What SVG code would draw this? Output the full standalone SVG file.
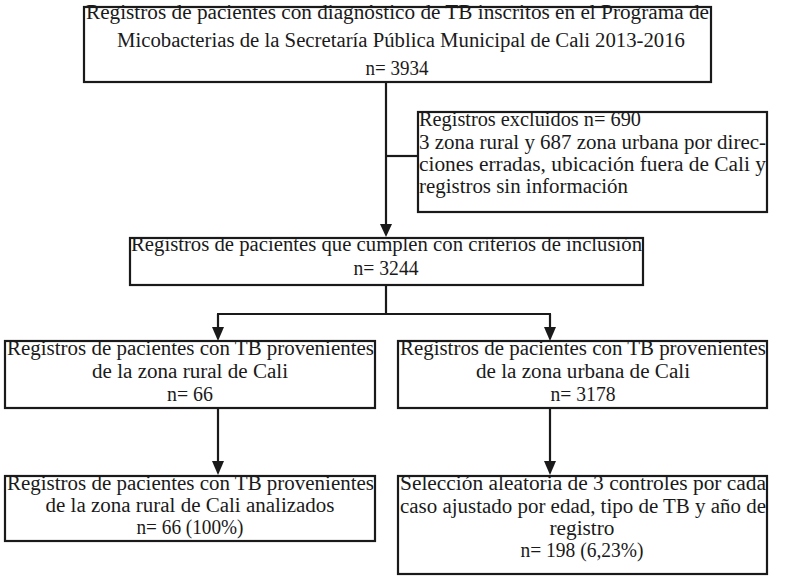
<svg xmlns="http://www.w3.org/2000/svg" width="787" height="576" viewBox="0 0 787 576">
<style>
.box{fill:#fff;stroke:#1a1a1a;stroke-width:2.2}
.t{font-family:"Liberation Serif","DejaVu Serif",serif;font-size:20px;fill:#1a1a1a}
.c{text-anchor:middle}
.ln{stroke:#1a1a1a;stroke-width:2.2;fill:none}
.ah{fill:#1a1a1a}
</style>
<rect width="787" height="576" fill="#fff"/>
<g id="connectors">
<line class="ln" x1="386" y1="82" x2="386" y2="224"/>
<path class="ah" d="M380,224 L392,224 L386,237 Z"/>
<line class="ln" x1="386" y1="156" x2="418" y2="156"/>
<line class="ln" x1="386" y1="285" x2="386" y2="314"/>
<line class="ln" x1="217" y1="314" x2="551" y2="314"/>
<line class="ln" x1="218" y1="314" x2="218" y2="328"/>
<path class="ah" d="M212,327 L224,327 L218,341 Z"/>
<line class="ln" x1="550" y1="314" x2="550" y2="328"/>
<path class="ah" d="M544,327 L556,327 L550,341 Z"/>
<line class="ln" x1="218" y1="408" x2="218" y2="462"/>
<path class="ah" d="M212,461 L224,461 L218,475 Z"/>
<line class="ln" x1="550" y1="408" x2="550" y2="462"/>
<path class="ah" d="M544,461 L556,461 L550,475 Z"/>
</g>
<g id="n1">
<rect class="box" x="84" y="7" width="627" height="75"/>
<text class="t" x="86" y="19" textLength="623" lengthAdjust="spacingAndGlyphs">Registros de pacientes con diagnóstico de TB inscritos en el Programa de</text>
<text class="t c" x="401" y="47" textLength="568" lengthAdjust="spacingAndGlyphs">Micobacterias de la Secretaría Pública Municipal de Cali 2013-2016</text>
<text class="t c" x="397" y="75" textLength="63" lengthAdjust="spacingAndGlyphs">n= 3934</text>
</g>
<g id="n2">
<rect class="box" x="418" y="112" width="349" height="100"/>
<text class="t" x="419" y="126" textLength="222" lengthAdjust="spacingAndGlyphs">Registros excluidos n= 690</text>
<text class="t" x="419" y="149" textLength="347" lengthAdjust="spacingAndGlyphs">3 zona rural y 687 zona urbana por direc-</text>
<text class="t" x="419" y="171" textLength="347" lengthAdjust="spacingAndGlyphs">ciones erradas, ubicación fuera de Cali y</text>
<text class="t" x="419" y="193" textLength="209" lengthAdjust="spacingAndGlyphs">registros sin información</text>
</g>
<g id="n3">
<rect class="box" x="130" y="238" width="513" height="47"/>
<text class="t" x="131" y="251" textLength="511" lengthAdjust="spacingAndGlyphs">Registros de pacientes que cumplen con criterios de inclusión</text>
<text class="t c" x="386" y="275" textLength="65" lengthAdjust="spacingAndGlyphs">n= 3244</text>
</g>
<g id="n4">
<rect class="box" x="5" y="341" width="370" height="67"/>
<text class="t" x="7" y="355" textLength="367" lengthAdjust="spacingAndGlyphs">Registros de pacientes con TB provenientes</text>
<text class="t c" x="190" y="378" textLength="196" lengthAdjust="spacingAndGlyphs">de la zona rural de Cali</text>
<text class="t c" x="190" y="401" textLength="46" lengthAdjust="spacingAndGlyphs">n= 66</text>
</g>
<g id="n5">
<rect class="box" x="398" y="341" width="369" height="67"/>
<text class="t" x="400" y="355" textLength="366" lengthAdjust="spacingAndGlyphs">Registros de pacientes con TB provenientes</text>
<text class="t c" x="583" y="378" textLength="214" lengthAdjust="spacingAndGlyphs">de la zona urbana de Cali</text>
<text class="t c" x="583" y="401" textLength="65" lengthAdjust="spacingAndGlyphs">n= 3178</text>
</g>
<g id="n6">
<rect class="box" x="5" y="476" width="370" height="65"/>
<text class="t" x="7" y="490" textLength="367" lengthAdjust="spacingAndGlyphs">Registros de pacientes con TB provenientes</text>
<text class="t c" x="190" y="512" textLength="289" lengthAdjust="spacingAndGlyphs">de la zona rural de Cali analizados</text>
<text class="t c" x="190" y="534" textLength="107" lengthAdjust="spacingAndGlyphs">n= 66 (100%)</text>
</g>
<g id="n7">
<rect class="box" x="398" y="476" width="369" height="98"/>
<text class="t" x="400" y="490" textLength="366" lengthAdjust="spacingAndGlyphs">Selección aleatoria de 3 controles por cada</text>
<text class="t" x="400" y="513" textLength="366" lengthAdjust="spacingAndGlyphs">caso ajustado por edad, tipo de TB y año de</text>
<text class="t c" x="582" y="535" textLength="65" lengthAdjust="spacingAndGlyphs">registro</text>
<text class="t c" x="582" y="557" textLength="123" lengthAdjust="spacingAndGlyphs">n= 198 (6,23%)</text>
</g>
</svg>
